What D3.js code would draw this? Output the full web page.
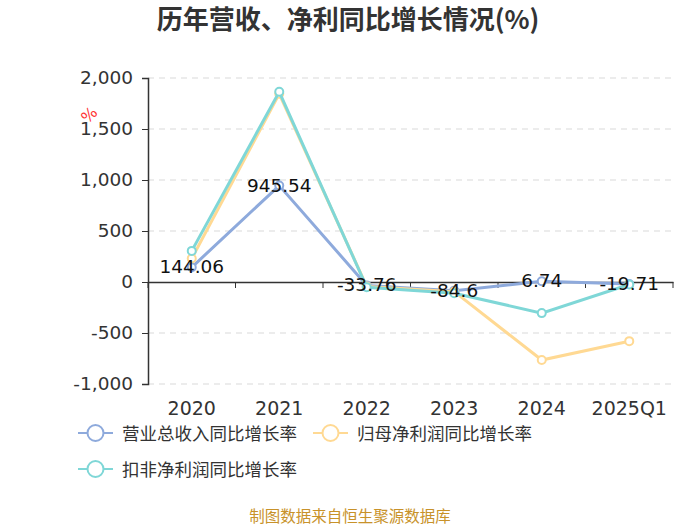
<!DOCTYPE html>
<html>
<head>
<meta charset="utf-8">
<script src="https://cdn.jsdelivr.net/npm/d3@7"></script>
<style>
  body { margin: 0; background: #fff; }
</style>
</head>
<body>
<div id="chart"></div>
<script>
const categories = ["2020", "2021", "2022", "2023", "2024", "2025Q1"];
const revenueGrowth = [144.06, 945.54, -33.76, -84.6, 6.74, -19.71];
const netProfitGrowth = [230, 1845, -45, -95, -765, -580];
const deductedProfitGrowth = [305, 1865, -52, -110, -305, -25];
const yTicks = [-1000, -500, 0, 500, 1000, 1500, 2000];

const seriesList = [
  { name: "营业总收入同比增长率", values: revenueGrowth, color: "#8eaadc" },
  { name: "归母净利润同比增长率", values: netProfitGrowth, color: "#ffd993" },
  { name: "扣非净利润同比增长率", values: deductedProfitGrowth, color: "#7fd7d7" }
];

const WIDTH = 700;
const HEIGHT = 525;
const MARGIN = { top: 78, right: 27, bottom: 141, left: 148 };
const NUM_FONT = "'DejaVu Sans', sans-serif";
const CJK_FONT = "'Noto Sans CJK SC', 'Noto Sans', sans-serif";

// plain hyphen for negatives, like the source chart
const locale = d3.formatLocale({ decimal: ".", thousands: ",", grouping: [3], currency: ["", ""], minus: "-" });

const svg = d3.select("#chart").append("svg")
  .attr("width", WIDTH)
  .attr("height", HEIGHT)
  .style("font-family", CJK_FONT);

const plotW = WIDTH - MARGIN.left - MARGIN.right;
const plotH = HEIGHT - MARGIN.top - MARGIN.bottom;

const x = d3.scaleBand().domain(categories).range([0, plotW]);
const y = d3.scaleLinear().domain([-1000, 2000]).range([plotH, 0]);

const g = svg.append("g").attr("transform", `translate(${MARGIN.left},${MARGIN.top})`);

// title
svg.append("text")
  .attr("x", 348).attr("y", 29)
  .attr("text-anchor", "middle")
  .attr("font-size", 26).attr("font-weight", "bold")
  .attr("fill", "#333")
  .text("历年营收、净利同比增长情况(%)");

// grid
g.append("g")
  .selectAll("line")
  .data(yTicks.filter(d => d !== 0))
  .join("line")
  .attr("x1", 0).attr("x2", plotW)
  .attr("y1", d => y(d)).attr("y2", d => y(d))
  .attr("stroke", "#d9d9d9")
  .attr("stroke-dasharray", "6,5");

// y axis
const yAxis = g.append("g")
  .call(d3.axisLeft(y).tickValues(yTicks).tickSize(6).tickPadding(9).tickFormat(locale.format(",")));
yAxis.select(".domain").attr("stroke", "#333").attr("stroke-width", 1.5);
yAxis.selectAll(".tick line").attr("stroke", "#333");
yAxis.selectAll(".tick text")
  .attr("font-size", 18.5).attr("fill", "#333")
  .style("font-family", NUM_FONT);

// x axis on zero
const xAxis = g.append("g")
  .attr("transform", `translate(0,${y(0)})`)
  .call(d3.axisBottom(x).tickSize(0).tickFormat(""));
xAxis.select(".domain").attr("stroke", "#333").attr("stroke-width", 1.5);
g.append("g")
  .selectAll("line")
  .data(categories.concat(["end"]))
  .join("line")
  .attr("x1", (d, i) => i * x.step()).attr("x2", (d, i) => i * x.step())
  .attr("y1", y(0)).attr("y2", y(0) + 6)
  .attr("stroke", "#333");

// x labels at bottom
g.append("g")
  .selectAll("text")
  .data(categories)
  .join("text")
  .attr("x", d => x(d) + x.bandwidth() / 2)
  .attr("y", plotH + 31)
  .attr("text-anchor", "middle")
  .attr("font-size", 19).attr("fill", "#333")
  .style("font-family", NUM_FONT)
  .text(d => d);

// unit label
svg.append("text")
  .attr("transform", "translate(93,119) rotate(-45)")
  .attr("text-anchor", "middle")
  .attr("font-size", 16).attr("fill", "#ff3333")
  .style("font-family", NUM_FONT)
  .text("%");

const line = d3.line()
  .x((d, i) => x(categories[i]) + x.bandwidth() / 2)
  .y(d => y(d));

seriesList.forEach(s => {
  g.append("path")
    .datum(s.values)
    .attr("fill", "none")
    .attr("stroke", s.color)
    .attr("stroke-width", 3)
    .attr("d", line);
  g.append("g")
    .selectAll("circle")
    .data(s.values)
    .join("circle")
    .attr("cx", (d, i) => x(categories[i]) + x.bandwidth() / 2)
    .attr("cy", d => y(d))
    .attr("r", 4)
    .attr("fill", "#fff")
    .attr("stroke", s.color)
    .attr("stroke-width", 2);
});

// data labels for revenue series
g.append("g")
  .selectAll("text")
  .data(revenueGrowth)
  .join("text")
  .attr("x", (d, i) => x(categories[i]) + x.bandwidth() / 2)
  .attr("y", d => y(d) + 6)
  .attr("text-anchor", "middle")
  .attr("font-size", 18.5).attr("fill", "#111")
  .style("font-family", NUM_FONT)
  .text(d => String(d));

// legend
const legendPos = [[78, 433], [313, 433], [78, 469]];
seriesList.forEach((s, i) => {
  const [lx, ly] = legendPos[i];
  const lg = svg.append("g").attr("transform", `translate(${lx},${ly})`);
  lg.append("line").attr("x1", 0).attr("x2", 35).attr("y1", 0).attr("y2", 0)
    .attr("stroke", s.color).attr("stroke-width", 2);
  lg.append("circle").attr("cx", 17.5).attr("cy", 0).attr("r", 8)
    .attr("fill", "#fff").attr("stroke", s.color).attr("stroke-width", 2);
  lg.append("text").attr("x", 44).attr("y", 6.5)
    .attr("font-size", 17.5).attr("fill", "#333")
    .text(s.name);
});

// source
svg.append("text")
  .attr("x", 350).attr("y", 522)
  .attr("text-anchor", "middle")
  .attr("font-size", 15.5).attr("fill", "#c8922a")
  .text("制图数据来自恒生聚源数据库");
</script>
</body>
</html>
